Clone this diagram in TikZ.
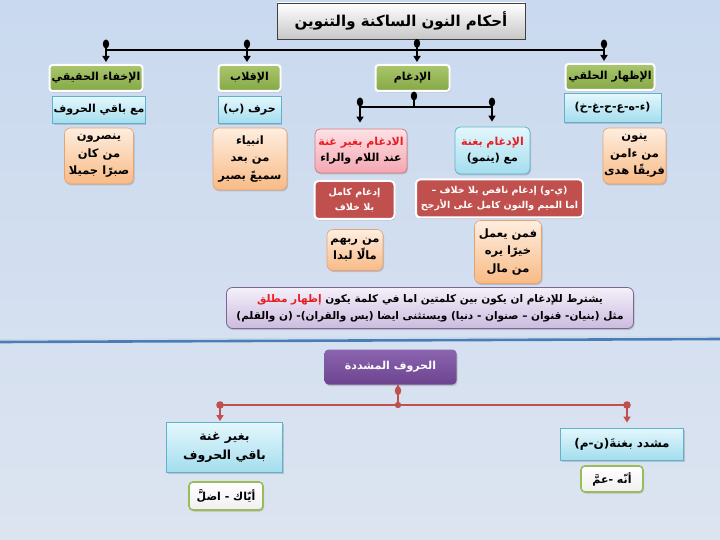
\documentclass[tikz,border=0pt]{standalone}
\usepackage{fontspec}
\newfontfamily\arabicfont[Script=Arabic]{DejaVu Sans}
\TeXXeTstate=1
\usetikzlibrary{arrows.meta,shadows}
\newcommand{\AR}[1]{\beginR #1\endR}
\definecolor{bgtop}{HTML}{C9D9EF}
\definecolor{bgbot}{HTML}{DCE4F0}
\definecolor{grnA}{HTML}{A9C66C}
\definecolor{grnB}{HTML}{86A846}
\definecolor{bluA}{HTML}{E4F7FC}
\definecolor{bluB}{HTML}{A3DDEE}
\definecolor{bluE}{HTML}{5FB2CA}
\definecolor{oraA}{HTML}{FEEEE0}
\definecolor{oraB}{HTML}{F8BA85}
\definecolor{oraE}{HTML}{E4A373}
\definecolor{pnkA}{HTML}{FDE2E6}
\definecolor{pnkB}{HTML}{F4A6B0}
\definecolor{pnkE}{HTML}{D27C86}
\definecolor{dred}{HTML}{C0504D}
\definecolor{lavA}{HTML}{F5F0FA}
\definecolor{lavB}{HTML}{CBBBDF}
\definecolor{lavE}{HTML}{7A6892}
\definecolor{purA}{HTML}{8B64AF}
\definecolor{purB}{HTML}{6C4490}
\definecolor{sepB}{HTML}{4A7DB6}
\definecolor{gwE}{HTML}{9BBB59}
\definecolor{rtxt}{HTML}{E81E25}
\tikzset{
  x=1pt, y=-1pt,
  shad/.style={drop shadow={opacity=0.35, shadow xshift=1pt, shadow yshift=-1.5pt}},
  box/.style={align=center, inner sep=1pt, font=\arabicfont\bfseries\fontsize{11}{16}\selectfont, text=black},
  titlebox/.style={box, top color=white, bottom color=black!22, draw=black!75, line width=0.8pt, shad, font=\arabicfont\bfseries\fontsize{15}{17}\selectfont},
  greenbox/.style={box, top color=grnA, bottom color=grnB, draw=white, line width=2pt, rounded corners=3pt, shad},
  bluebox/.style={box, top color=bluA, bottom color=bluB, draw=bluE, line width=0.8pt, shad},
  orangebox/.style={box, top color=oraA, bottom color=oraB, draw=oraE, line width=0.6pt, rounded corners=6pt, shad, font=\arabicfont\bfseries\fontsize{11.5}{17.5}\selectfont},
  pinkbox/.style={box, top color=pnkA, bottom color=pnkB, draw=pnkE, line width=0.8pt, rounded corners=5pt, shad},
  lblue/.style={box, top color=bluA, bottom color=bluB, draw=bluE, line width=0.8pt, rounded corners=5pt, shad},
  redbox/.style={box, fill=dred, draw=white, line width=2pt, rounded corners=4pt, shad, text=white, font=\arabicfont\bfseries\fontsize{9.5}{15}\selectfont},
  notebox/.style={box, top color=lavA, bottom color=lavB, draw=lavE, line width=0.8pt, rounded corners=6pt, shad, font=\arabicfont\bfseries\fontsize{10.5}{17}\selectfont},
  purbox/.style={box, top color=purA, bottom color=purB, draw=none, rounded corners=4pt, shad, text=white},
  gwbox/.style={box, top color=white, bottom color=black!6, draw=gwE, line width=1.6pt, rounded corners=4pt, shad},
  blkbar/.style={draw=black, line width=2.4pt},
  blkstub/.style={draw=black, line width=1.8pt, -{Triangle[width=7pt,length=6pt]}, shorten >=2pt},
  redbar/.style={draw=dred, line width=2.4pt},
  redstub/.style={draw=dred, line width=1.8pt, -{Triangle[width=7pt,length=6pt]}, shorten >=1pt},
}
\begin{document}
\begin{tikzpicture}
\useasboundingbox (0,0) rectangle (720,540);
\shade[top color=bgtop, bottom color=bgbot] (0,0) rectangle (720,540);
% separator
\draw[sepB, line width=2.6pt] (0,342) -- (720,339);
\draw[white!70!sepB, line width=0.8pt] (0,339.5) -- (720,336.5);

% ---- nodes (upper part)
\node[titlebox, minimum width=248, minimum height=36] (title) at (401,21) {\AR{أحكام النون الساكنة والتنوين}};

\node[greenbox, minimum width=93, minimum height=26] (g1) at (96,78) {\AR{الإخفاء الحقيقي}};
\node[greenbox, minimum width=62, minimum height=26] (g2) at (249.5,78) {\AR{الإقلاب}};
\node[greenbox, minimum width=74, minimum height=26] (g3) at (412.5,78) {\AR{الإدغام}};
\node[greenbox, minimum width=89, minimum height=26] (g4) at (610,77) {\AR{الإظهار الحلقي}};

\node[bluebox, minimum width=92, minimum height=27] (b1) at (99,110) {\AR{مع باقي الحروف}};
\node[bluebox, minimum width=63, minimum height=27] (b2) at (249.5,110) {\AR{حرف (ب)}};
\node[bluebox, minimum width=97, minimum height=29] (b4) at (612.5,108) {\AR{(ء-ه-ع-ح-غ-خ)}};

\node[orangebox, minimum width=69, minimum height=56] (o1) at (99,156) {\AR{ينصرون}\\\AR{من كان}\\\AR{صبرًا جميلا}};
\node[orangebox, minimum width=74, minimum height=62] (o2) at (250,159) {\AR{انبياء}\\\AR{من بعد}\\\AR{سميعً بصير}};
\node[orangebox, minimum width=63, minimum height=56] (o3) at (634.5,156) {\AR{ينون}\\\AR{من ءامن}\\\AR{فريقًا هدى}};

\node[pinkbox, minimum width=92, minimum height=44] (pk) at (361,151) {{\color{rtxt}\AR{الادغام بغير غنة}}\\\AR{عند اللام والراء}};
\node[lblue, minimum width=75, minimum height=47] (bg) at (492.5,150.5) {{\color{rtxt}\AR{الإدغام بغنة}}\\\AR{مع (ينمو)}};

\node[redbox, minimum width=80, minimum height=38] (dr1) at (354.5,200) {\AR{إدغام كامل}\\\AR{بلا خلاف}};
\node[redbox, minimum width=167, minimum height=38] (dr2) at (499.5,198.5) {\AR{(ي-و) إدغام ناقص بلا خلاف –}\\\AR{اما الميم والنون كامل على الأرجح}};

\node[orangebox, minimum width=56, minimum height=41] (o4) at (355,250) {\AR{من ربهم}\\\AR{مالًا لبدا}};
\node[orangebox, minimum width=67, minimum height=63] (o5) at (508,252) {\AR{فمن يعمل}\\\AR{خيرًا يره}\\\AR{من مال}};

\node[notebox, minimum width=407, minimum height=41] (note) at (430,308) {{\color{rtxt}\AR{إظهار مطلق}} \AR{يشترط للإدغام ان يكون بين كلمتين اما في كلمة يكون}\\\AR{مثل (بنيان- قنوان – صنوان - دنيا) ويستثنى ايضا (يس والقران)- (ن والقلم)}};

% ---- nodes (lower part)
\node[purbox, minimum width=132, minimum height=35] (pu) at (390.5,367) {\AR{الحروف المشددة}};
\node[bluebox, minimum width=116, minimum height=50, font=\arabicfont\bfseries\fontsize{12.5}{19}\selectfont] (lb1) at (224.5,447.5) {\AR{بغير غنة}\\\AR{باقي الحروف}};
\node[bluebox, minimum width=123, minimum height=32, font=\arabicfont\bfseries\fontsize{12}{16}\selectfont] (lb2) at (622,444) {\AR{مشدد بغنةَ(ن-م)}};
\node[gwbox, minimum width=74, minimum height=28] (gw1) at (226,496) {\AR{أيّاك - اضلَّ}};
\node[gwbox, minimum width=62, minimum height=26] (gw2) at (612,479) {\AR{أنّه -عمَّ}};

% ---- upper connectors
\coordinate (jL) at (106,50);
\coordinate (jB) at (247,50);
\coordinate (jT) at (417,50);
\coordinate (jR) at (604,50);
\draw[blkbar] (jL) -- (jR);
\fill ([yshift=-4pt]title.south -| jT) ellipse [x radius=3.2pt, y radius=4.5pt];
\draw[blkstub] ([yshift=-4pt]title.south -| jT) -- (g3.north -| jT);
\foreach \j/\g in {jL/g1, jB/g2, jR/g4}{
  \fill ([yshift=6pt]\j) ellipse [x radius=3.2pt, y radius=4.5pt];
  \draw[blkstub] ([yshift=6pt]\j) -- (\g.north -| \j);
}
\coordinate (kT) at (414,107);
\coordinate (kL) at (360,107);
\coordinate (kR) at (492,107);
\fill ([yshift=-4pt]g3.south -| kT) ellipse [x radius=3.2pt, y radius=4.5pt];
\draw[blkbar, line width=1.8pt] ([yshift=-4pt]g3.south -| kT) -- (kT);
\draw[blkbar] (kL) -- (kR);
\fill ([yshift=5pt]kL) ellipse [x radius=3.2pt, y radius=4.5pt];
\fill ([yshift=5pt]kR) ellipse [x radius=3.2pt, y radius=4.5pt];
\draw[blkstub, shorten >=6pt] ([yshift=5pt]kL) -- (pk.north -| kL);
\draw[blkstub, shorten >=5pt] ([yshift=5pt]kR) -- (bg.north -| kR);

% ---- lower connectors
\coordinate (rL) at (220,405);
\coordinate (rT) at (398,405);
\coordinate (rR) at (627,405);
\draw[redbar] (rL) -- (rR);
\draw[draw=dred, line width=1.8pt] (pu.south -| rT) -- ([yshift=-3pt]rT);
\fill[dred] ([yshift=-6pt]pu.south -| rT) ellipse [x radius=3.2pt, y radius=4.5pt];
\fill[dred] (rT) circle (3.2pt);
\fill[dred] (rL) circle (3.8pt);
\fill[dred] (rR) circle (3.8pt);
\draw[redstub] (rL) -- (lb1.north -| rL);
\draw[redstub, shorten >=5pt] (rR) -- (lb2.north -| rR);
\end{tikzpicture}
\end{document}
